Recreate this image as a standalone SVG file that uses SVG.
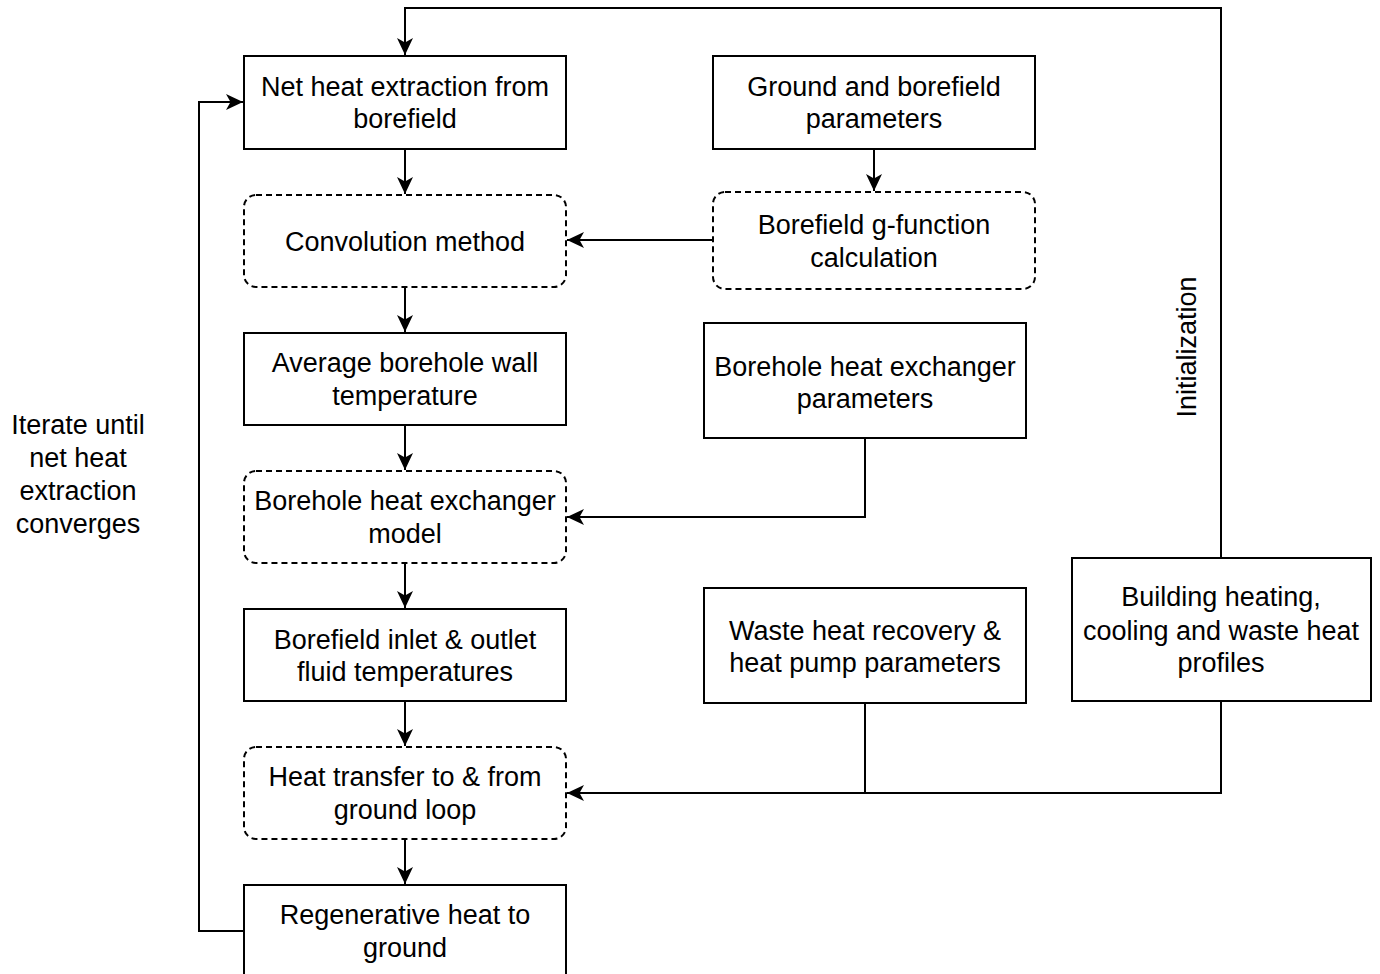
<svg xmlns="http://www.w3.org/2000/svg" width="1380" height="974" viewBox="0 0 1380 974">
<style>
.box{fill:#fff;stroke:#000;stroke-width:2}
.dbox{fill:#fff;stroke:#000;stroke-width:2;stroke-dasharray:6 4}
.t{font-family:"Liberation Sans",Arial,sans-serif;font-size:27px;fill:#000;text-anchor:middle}
.c{fill:none;stroke:#000;stroke-width:2}
</style>
<defs>
<marker id="ah" markerUnits="userSpaceOnUse" markerWidth="20" markerHeight="20" refX="17" refY="8" orient="auto">
<path d="M0,0 L17,8 L0,16 L4.5,8 z" fill="#000"/>
</marker>
</defs>
<rect width="1380" height="974" fill="#fff"/>
<g id="connectors">
<path class="c" d="M1221,558 V8 H405 V55" marker-end="url(#ah)"/>
<path class="c" d="M244,931 H199 V102 H243" marker-end="url(#ah)"/>
<path class="c" d="M405,149 V194" marker-end="url(#ah)"/>
<path class="c" d="M874,149 V191" marker-end="url(#ah)"/>
<path class="c" d="M713,240 H567" marker-end="url(#ah)"/>
<path class="c" d="M405,287 V332" marker-end="url(#ah)"/>
<path class="c" d="M405,425 V470" marker-end="url(#ah)"/>
<path class="c" d="M865,438 V517 H567" marker-end="url(#ah)"/>
<path class="c" d="M405,563 V608" marker-end="url(#ah)"/>
<path class="c" d="M405,701 V746" marker-end="url(#ah)"/>
<path class="c" d="M865,703 V793 H567" marker-end="url(#ah)"/>
<path class="c" d="M1221,701 V793 H865"/>
<path class="c" d="M405,839 V884" marker-end="url(#ah)"/>
</g>
<g id="n1"><rect class="box" x="244" y="56" width="322" height="93"/><text class="t" x="405" y="96">Net heat extraction from</text><text class="t" x="405" y="128">borefield</text></g>
<g id="n2"><rect class="dbox" x="244" y="195" width="322" height="92" rx="12"/><text class="t" x="405" y="251">Convolution method</text></g>
<g id="n3"><rect class="box" x="244" y="333" width="322" height="92"/><text class="t" x="405" y="372">Average borehole wall</text><text class="t" x="405" y="405">temperature</text></g>
<g id="n4"><rect class="dbox" x="244" y="471" width="322" height="92" rx="12"/><text class="t" x="405" y="510">Borehole heat exchanger</text><text class="t" x="405" y="543">model</text></g>
<g id="n5"><rect class="box" x="244" y="609" width="322" height="92"/><text class="t" x="405" y="649">Borefield inlet &amp; outlet</text><text class="t" x="405" y="681">fluid temperatures</text></g>
<g id="n6"><rect class="dbox" x="244" y="747" width="322" height="92" rx="12"/><text class="t" x="405" y="786">Heat transfer to &amp; from</text><text class="t" x="405" y="819">ground loop</text></g>
<g id="n7"><rect class="box" x="244" y="885" width="322" height="100"/><text class="t" x="405" y="924">Regenerative heat to</text><text class="t" x="405" y="957">ground</text></g>
<g id="n8"><rect class="box" x="713" y="56" width="322" height="93"/><text class="t" x="874" y="96">Ground and borefield</text><text class="t" x="874" y="128">parameters</text></g>
<g id="n9"><rect class="dbox" x="713" y="192" width="322" height="97" rx="12"/><text class="t" x="874" y="234">Borefield g-function</text><text class="t" x="874" y="267">calculation</text></g>
<g id="n10"><rect class="box" x="704" y="323" width="322" height="115"/><text class="t" x="865" y="376">Borehole heat exchanger</text><text class="t" x="865" y="408">parameters</text></g>
<g id="n11"><rect class="box" x="704" y="588" width="322" height="115"/><text class="t" x="865" y="640">Waste heat recovery &amp;</text><text class="t" x="865" y="672">heat pump parameters</text></g>
<g id="n12"><rect class="box" x="1072" y="558" width="299" height="143"/><text class="t" x="1221" y="606">Building heating,</text><text class="t" x="1221" y="640">cooling and waste heat</text><text class="t" x="1221" y="672">profiles</text></g>
<g id="labels">
<text class="t" transform="translate(1196,347) rotate(-90)" x="0" y="0">Initialization</text>
<text class="t" x="78" y="434">Iterate until</text>
<text class="t" x="78" y="467">net heat</text>
<text class="t" x="78" y="500">extraction</text>
<text class="t" x="78" y="533">converges</text>
</g>
</svg>
